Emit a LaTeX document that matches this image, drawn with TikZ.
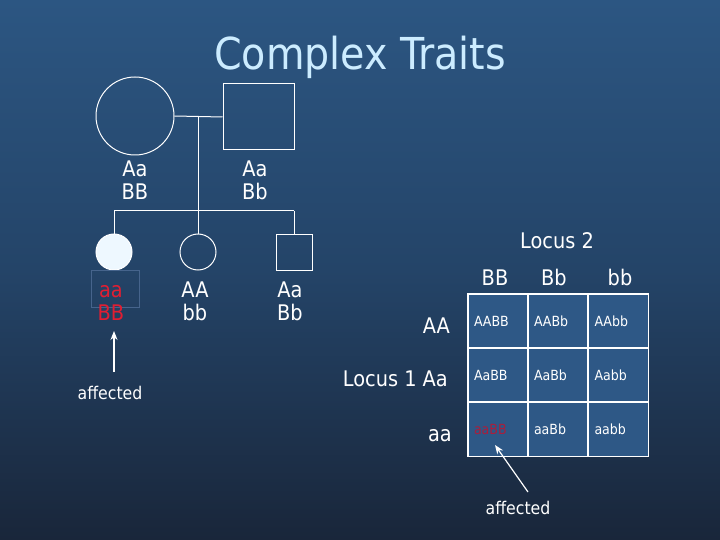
\documentclass[tikz,border=0pt]{standalone}
\usepackage{fontspec}
\setmainfont{DejaVu Sans Condensed}
\usetikzlibrary{arrows.meta}
\definecolor{bgtop}{RGB}{44,86,130}
\definecolor{bgmid}{RGB}{36,68,104}
\definecolor{bgbot}{RGB}{25,38,58}
\definecolor{titlecol}{RGB}{204,236,255}
\definecolor{cellblue}{RGB}{46,88,134}
\definecolor{redtxt}{RGB}{225,30,50}
\definecolor{darkred}{RGB}{170,30,60}
\definecolor{faint}{RGB}{70,100,140}
\definecolor{fillwhite}{RGB}{238,248,255}
\begin{document}
\begin{tikzpicture}[x=1pt,y=-1pt,
  lbl/.style={text=white, font=\fontsize{21.5}{24}\selectfont, inner sep=0pt, anchor=base},
  small/.style={text=white, font=\fontsize{17.5}{20}\selectfont, inner sep=0pt, anchor=base},
  ped/.style={draw=white, line width=1pt},
  fem/.style={ped, circle, inner sep=0pt},
  mal/.style={ped, rectangle, inner sep=0pt},
  cell/.style={draw=white, line width=1.2pt, fill=cellblue, minimum width=60pt, minimum height=54pt,
     text width=48pt, inner xsep=6pt, align=left, font=\fontsize{14}{16}\selectfont, text=white},
  arr/.style={white, line width=1.2pt, -{Stealth[length=9pt,width=7pt]}}
]
\useasboundingbox (0,0) rectangle (720,540);
\shade[top color=bgtop, bottom color=bgbot, middle color=bgmid] (0,0) rectangle (720,540);

% title
\node[anchor=base, inner sep=0pt, text=titlecol, font=\fontsize{44}{52}\selectfont] (title) at (360,70) {Complex Traits};

% parents
\node[fem, minimum size=78pt] (mother) at (135,116) {};
\node[mal, minimum width=71pt, minimum height=66pt] (father) at (258.5,117) {};
\node[lbl] (mA) at (135,177) {Aa};
\node[lbl] (mB) at (135,200) {BB};
\node[lbl] (fA) at (255,177) {Aa};
\node[lbl] (fB) at (255,200) {Bb};

\coordinate (drop) at (198,116);
\coordinate (sibL) at (114,211);
\coordinate (sibM) at (198,211);
\coordinate (sibR) at (294,211);

% children
\node[fem, minimum size=36pt, fill=fillwhite] (c1) at (114,252) {};
\node[fem, minimum size=36pt] (c2) at (198,252) {};
\node[mal, minimum size=36pt] (c3) at (294,252.5) {};

\draw[ped] (mother.east) -- (father.west);
\draw[ped] (drop) -- (sibM);
\draw[ped] (sibL) -- (sibR);
\draw[ped] (sibL) -- (c1.north);
\draw[ped] (sibM) -- (c2.north);
\draw[ped] (sibR) -- (c3.north);

\node[draw=faint, line width=0.6pt, minimum width=48pt, minimum height=37pt, inner sep=0pt] (redbox) at (115,288.5) {};
\node[lbl, text=redtxt] (c1A) at (111,297) {aa};
\node[lbl, text=redtxt] (c1B) at (111,320) {BB};
\node[lbl] (c2A) at (195,297) {AA};
\node[lbl] (c2B) at (195,320) {bb};
\node[lbl] (c3A) at (290,297) {Aa};
\node[lbl] (c3B) at (290,320) {Bb};

\node[small] (aff1) at (110,399) {affected};
\coordinate (a1s) at (114,372);
\coordinate (a1e) at (114,331);
\draw[arr] (a1s) -- (a1e);

% table
\node[lbl] (loc2) at (557,248) {Locus 2};
\node[lbl] (hBB) at (495,285) {BB};
\node[lbl] (hBb) at (554,285) {Bb};
\node[lbl] (hbb) at (620,285) {bb};
\node[lbl, anchor=base east] (rAA) at (450,333) {AA};
\node[lbl, anchor=base east] (rAa) at (448,386) {Locus 1 Aa};
\node[lbl, anchor=base east] (raa) at (452,441) {aa};

\node[cell] (g11) at (498,321) {AABB};
\node[cell] (g12) at (558,321) {AABb};
\node[cell] (g13) at (618.5,321) {AAbb};
\node[cell] (g21) at (498,375) {AaBB};
\node[cell] (g22) at (558,375) {AaBb};
\node[cell] (g23) at (618.5,375) {Aabb};
\node[cell, text=darkred] (g31) at (498,429.5) {aaBB};
\node[cell] (g32) at (558,429.5) {aaBb};
\node[cell] (g33) at (618.5,429.5) {aabb};

\node[small] (aff2) at (518,514) {affected};
\coordinate (a2s) at (528,492);
\coordinate (a2e) at (495,445);
\draw[arr] (a2s) -- (a2e);
\end{tikzpicture}
\end{document}
